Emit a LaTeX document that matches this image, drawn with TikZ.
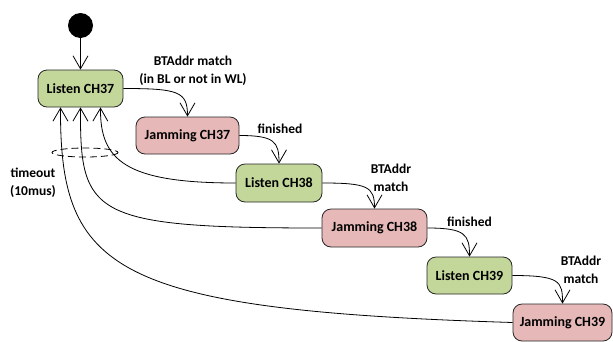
\documentclass[tikz,border=0pt]{standalone}
\usepackage{fontspec}
\setmainfont{Carlito}
\usetikzlibrary{arrows.meta}
\definecolor{lgreen}{RGB}{196,215,155}
\definecolor{lpink}{RGB}{230,185,184}
\tikzset{
  state/.style={draw=black!85, line width=0.8pt, rounded corners=9pt, font=\bfseries\fontsize{14}{16}\selectfont, inner sep=0pt},
  listen/.style={state, fill=lgreen},
  jam/.style={state, fill=lpink},
  lbl/.style={font=\bfseries\fontsize{13.5}{17.5}\selectfont, align=center, inner sep=0pt},
  tr/.style={line width=0.8pt, -{Straight Barb[length=13pt,width=15pt,line width=0.8pt]}}
}
\begin{document}
\begin{tikzpicture}[x=1pt,y=-1pt]
\useasboundingbox (0,0) rectangle (613,341);
\node[circle, fill=black, minimum size=25pt, inner sep=0pt] (start) at (80.5,25.5) {};
\node[listen, minimum width=85pt, minimum height=37pt] (l37) at (80.5,88.5) {Listen CH37};
\node[jam, minimum width=103pt, minimum height=37pt] (j37) at (187.5,135.5) {Jamming CH37};
\node[listen, minimum width=86pt, minimum height=38pt] (l38) at (279,183) {Listen CH38};
\node[jam, minimum width=105pt, minimum height=38pt] (j38) at (374.5,228) {Jamming CH38};
\node[listen, minimum width=85pt, minimum height=37pt] (l39) at (469.5,275.5) {Listen CH39};
\node[jam, minimum width=99pt, minimum height=37pt] (j39) at (562.5,322.5) {Jamming CH39};

\node[lbl] (t1) at (193,71) {BTAddr match\\(in BL or not in WL)};
\node[lbl] (t2) at (280,128.5) {finished};
\node[lbl] (t3) at (391,178) {BTAddr\\match};
\node[lbl] (t4) at (469.5,222) {finished};
\node[lbl] (t5) at (581,270) {BTAddr\\match};
\node[lbl] (t6) at (33,183) {timeout\\(10mus)};

\draw[tr] (start) -- (l37);
\draw[tr] (l37.east) .. controls +(55,0) and +(0,-25) .. (j37.north);
\draw[tr] (j37.east) .. controls +(35,0) and +(0,-22) .. (l38.north);
\draw[tr] (l38.east) .. controls +(45,0) and +(0,-22) .. (j38.north);
\draw[tr] (j38.east) .. controls +(38,0) and +(0,-22) .. (l39.north);
\draw[tr] (l39.east) .. controls +(48,0) and +(0,-22) .. (j39.north);

\draw[tr] (l38.west) .. controls (125,183) and (100,160) .. ([xshift=20pt]l37.south);
\draw[tr] (j38.west) .. controls (90,228) and (80,215) .. (l37.south);
\draw[tr] (j39.west) .. controls (110,310) and (60,270) .. ([xshift=-20pt]l37.south);

\draw[line width=0.8pt, dash pattern=on 7pt off 4pt] (85,152.5) ellipse [x radius=33, y radius=4.5];
\end{tikzpicture}
\end{document}
